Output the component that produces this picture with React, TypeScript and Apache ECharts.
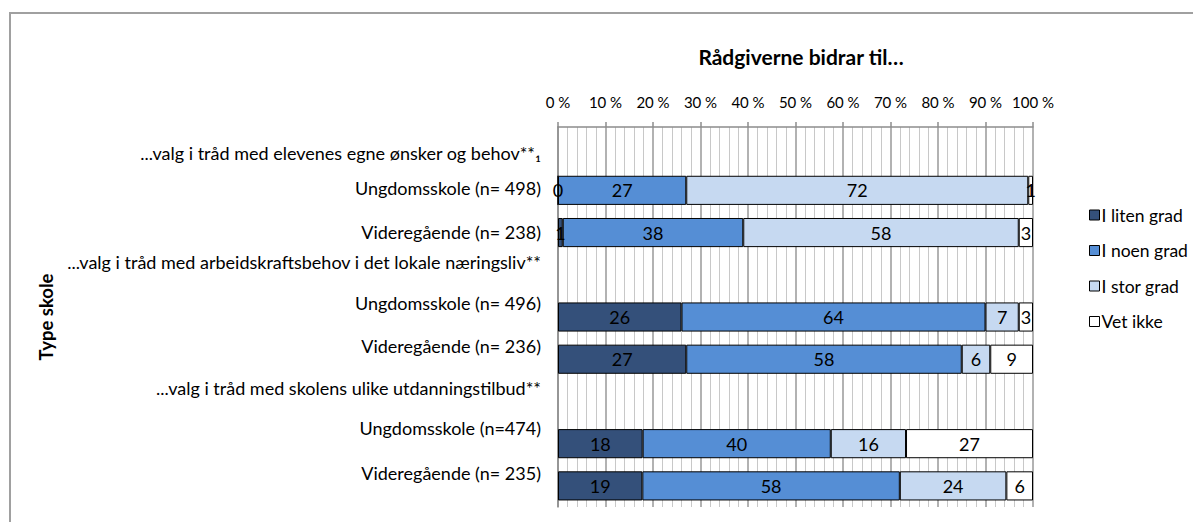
import React, { useEffect, useRef } from "react";
import * as echarts from "echarts";

const categories = [
  "...valg i tråd med elevenes egne ønsker og behov**₁",
  "Ungdomsskole (n= 498)",
  "Videregående (n= 238)",
  "...valg i tråd med arbeidskraftsbehov i det lokale næringsliv**",
  "Ungdomsskole (n= 496)",
  "Videregående (n= 236)",
  "...valg i tråd med skolens ulike utdanningstilbud**",
  "Ungdomsskole (n=474)",
  "Videregående (n= 235)",
];

const seriesNames = ["I liten grad", "I noen grad", "I stor grad", "Vet ikke"];
const iLitenGrad = [null, 0, 1, null, 26, 27, null, 18, 19];
const iNoenGrad = [null, 27, 38, null, 64, 58, null, 40, 58];
const iStorGrad = [null, 72, 58, null, 7, 6, null, 16, 24];
const vetIkke = [null, 1, 3, null, 3, 9, null, 27, 6];

const xTicks = [0, 10, 20, 30, 40, 50, 60, 70, 80, 90, 100];

const colors = ["#34507a", "#558ed5", "#c6d9f1", "#ffffff"];
const labelShift = [5, -2, -1, -13, -14, -13, -13, -16, -13];

const FONT = "Lato, 'Open Sans', sans-serif";

export default function App() {
  const ref = useRef<HTMLDivElement>(null);

  useEffect(() => {
    if (!ref.current) return;
    const chart = echarts.init(ref.current, undefined, { renderer: "svg" });
    const all = [iLitenGrad, iNoenGrad, iStorGrad, vetIkke];
    const totals = categories.map((_, i) =>
      all.reduce((s, arr) => s + (arr[i] == null ? 0 : (arr[i] as number)), 0)
    );

    const rich: Record<string, any> = {};
    labelShift.forEach((d, i) => {
      rich["o" + i] = {
        fontFamily: FONT,
        fontSize: 18,
        color: "#000",
        padding: d < 0 ? [0, 0, -2 * d, 0] : [2 * d, 0, 0, 0],
      };
    });

    const series = all.map((arr, si) => ({
      name: seriesNames[si],
      type: "bar",
      stack: "total",
      barCategoryGap: "31%",
      data: arr.map((v, i) =>
        v == null ? "-" : { value: (v / totals[i]) * 100, raw: v }
      ),
      itemStyle: {
        color: colors[si],
        borderColor: "#000",
        borderWidth: 1,
      },
      label: {
        show: true,
        position: "inside",
        fontFamily: FONT,
        fontSize: 18,
        color: "#000",
        formatter: (p: any) => (p.data && p.data.raw != null ? String(p.data.raw) : ""),
      },
    }));

    chart.setOption({
      animation: false,
      backgroundColor: "#fff",
      title: {
        text: "Rådgiverne bidrar til…",
        left: 796,
        textAlign: "center",
        top: 41,
        textStyle: { fontFamily: FONT, fontSize: 21, fontWeight: "bold", color: "#000" },
      },
      legend: {
        orient: "vertical",
        left: 1084,
        top: 201,
        itemWidth: 10,
        itemHeight: 10,
        itemGap: 17.5,
        icon: "rect",
        textStyle: { fontFamily: FONT, fontSize: 17.5, color: "#000", padding: [0, 0, 0, -3] },
        data: seriesNames.map((n, i) => ({
          name: n,
          itemStyle: { color: colors[i], borderColor: "#000", borderWidth: 1 },
        })),
      },
      grid: { left: 558, right: 160, top: 127, bottom: 15, containLabel: false },
      xAxis: {
        type: "value",
        position: "top",
        min: xTicks[0],
        max: xTicks[xTicks.length - 1],
        interval: 10,
        axisLine: { show: true, lineStyle: { color: "#8c8c8c", width: 1.5 } },
        axisTick: { show: true, length: 5, lineStyle: { color: "#8c8c8c", width: 1.5 } },
        axisLabel: {
          margin: 18,
          fontFamily: FONT,
          fontSize: 15,
          color: "#000",
          formatter: (v: number) => v + " %",
        },
        splitLine: { show: true, lineStyle: { color: "#999", width: 1.5 } },
        minorTick: { show: false, splitNumber: 5 },
        minorSplitLine: { show: true, lineStyle: { color: "#c8c8c8", width: 1 } },
      },
      yAxis: {
        type: "category",
        inverse: true,
        data: categories,
        name: "Type skole",
        nameLocation: "middle",
        nameRotate: 90,
        nameGap: 503,
        nameTextStyle: { fontFamily: FONT, fontSize: 18.5, fontWeight: "bold", color: "#000" },
        axisLine: { show: true, lineStyle: { color: "#8c8c8c", width: 1.5 } },
        axisTick: { show: false },
        axisLabel: {
          margin: 17,
          fontFamily: FONT,
          fontSize: 18,
          color: "#000",
          formatter: (value: string, index: number) => `{o${index}|${value}}`,
          rich,
        },
        splitLine: { show: false },
      },
      graphic: [
        {
          type: "rect",
          shape: { x: 10, y: 13, width: 1300, height: 700 },
          style: { fill: "none", stroke: "#a0a0a0", lineWidth: 2 },
          silent: true,
          z: 100,
        },
      ],
      series,
    });

    return () => chart.dispose();
  }, []);

  return (
    <div
      ref={ref}
      style={{ position: "fixed", left: 0, top: 0, width: 1193, height: 522 }}
    />
  );
}
